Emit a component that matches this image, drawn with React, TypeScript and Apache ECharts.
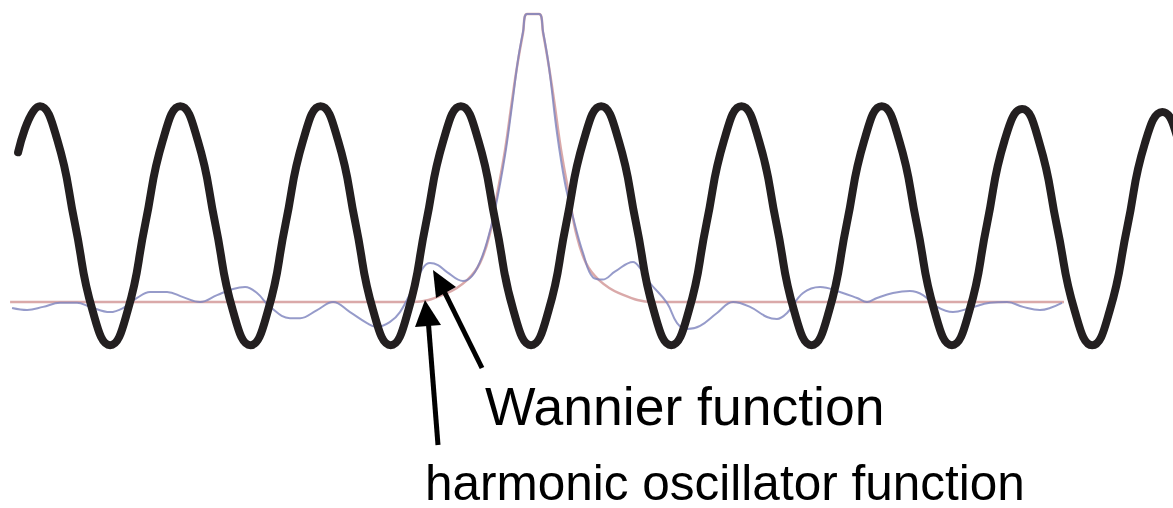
import React, { useEffect, useRef } from "react";
import * as echarts from "echarts";

// x: position in lattice spacings (potential minima at integers), y: amplitude (Wannier peak = 1)
const latticePotential: [number, number][] = [
  [-3.656, 0.52], [-3.5, 0.68], [-3.375, 0.56], [-3.25, 0.27], [-3.125, -0.03], [-3, -0.15], [-2.875, -0.03], [-2.75, 0.27], [-2.625, 0.56],
  [-2.5, 0.68], [-2.375, 0.56], [-2.25, 0.27], [-2.125, -0.03], [-2, -0.15], [-1.875, -0.03], [-1.75, 0.27], [-1.625, 0.56],
  [-1.5, 0.68], [-1.375, 0.56], [-1.25, 0.27], [-1.125, -0.03], [-1, -0.15], [-0.875, -0.03], [-0.75, 0.27], [-0.625, 0.56],
  [-0.5, 0.68], [-0.375, 0.56], [-0.25, 0.27], [-0.125, -0.03], [0, -0.15], [0.125, -0.03], [0.25, 0.27], [0.375, 0.56],
  [0.5, 0.68], [0.625, 0.56], [0.75, 0.27], [0.875, -0.03], [1, -0.15], [1.125, -0.03], [1.25, 0.27], [1.375, 0.56],
  [1.5, 0.68], [1.625, 0.56], [1.75, 0.27], [1.875, -0.03], [2, -0.15], [2.125, -0.03], [2.25, 0.27], [2.375, 0.56],
  [2.5, 0.68], [2.625, 0.56], [2.75, 0.27], [2.875, -0.03], [3, -0.15], [3.125, -0.03], [3.25, 0.27], [3.375, 0.56],
  [3.5, 0.67], [3.625, 0.55], [3.75, 0.26], [3.875, -0.03], [4, -0.15], [4.125, -0.03], [4.25, 0.26], [4.375, 0.55],
  [4.5, 0.66], [4.625, 0.54], [4.75, 0.25],
];

const harmonicOscillator: [number, number][] = [
  [-3.713, 0], [-0.841, 0], [-0.599, 0.031], [-0.456, 0.076], [-0.364, 0.135], [-0.292, 0.24],
  [-0.249, 0.354], [-0.185, 0.528], [-0.135, 0.701], [-0.1, 0.816], [-0.057, 0.934], [-0.028, 1.0],
  [0.057, 1.0], [0.086, 0.934], [0.128, 0.816], [0.164, 0.701], [0.214, 0.528], [0.278, 0.354],
  [0.321, 0.24], [0.392, 0.135], [0.485, 0.076], [0.627, 0.031], [0.87, 0], [3.799, 0],
];

const wannier: [number, number][] = [
  [-3.699, -0.021], [-3.592, -0.028], [-3.478, -0.017], [-3.357, -0.003], [-3.236, -0.003], [-3.143, -0.017],
  [-3.001, -0.035], [-2.908, -0.021], [-2.808, 0.014], [-2.716, 0.035], [-2.594, 0.035], [-2.48, 0.017],
  [-2.359, 0], [-2.238, 0.024], [-2.124, 0.045], [-2.038, 0.052], [-1.953, 0.031], [-1.86, -0.017],
  [-1.718, -0.056], [-1.646, -0.056], [-1.525, -0.028], [-1.411, 0], [-1.29, -0.035], [-1.169, -0.073],
  [-1.098, -0.087], [-1.005, -0.069], [-0.934, -0.035], [-0.841, 0.049], [-0.77, 0.118], [-0.72, 0.135],
  [-0.663, 0.128], [-0.599, 0.104], [-0.485, 0.073], [-0.421, 0.09], [-0.364, 0.139], [-0.314, 0.208],
  [-0.257, 0.319], [-0.185, 0.51], [-0.135, 0.684], [-0.093, 0.84], [-0.057, 0.938], [-0.028, 1.0],
  [0.057, 1.0], [0.086, 0.938], [0.128, 0.816], [0.185, 0.587], [0.242, 0.413], [0.299, 0.295],
  [0.371, 0.17], [0.442, 0.085], [0.51, 0.078], [0.6, 0.106], [0.727, 0.139], [0.777, 0.118],
  [0.848, 0.066], [0.969, -0.003], [1.041, -0.073], [1.112, -0.094], [1.205, -0.083], [1.326, -0.038],
  [1.44, 0], [1.561, -0.017], [1.682, -0.052], [1.753, -0.059], [1.825, -0.038], [1.939, 0.031],
  [2.06, 0.052], [2.202, 0.035], [2.324, 0.014], [2.395, 0], [2.466, 0.014], [2.58, 0.031],
  [2.701, 0.038], [2.794, 0.024], [2.894, -0.017], [3.008, -0.035], [3.129, -0.021], [3.272, -0.003],
  [3.393, 0], [3.507, -0.017], [3.628, -0.028], [3.699, -0.021], [3.785, -0.003],
];

const labelWannier = "Wannier function";
const labelHarmonic = "harmonic oscillator function";

export default function App() {
  const ref = useRef<HTMLDivElement>(null);
  useEffect(() => {
    if (!ref.current) return;
    const chart = echarts.init(ref.current, undefined, { renderer: "svg" });
    const font = '"Liberation Sans", Arial, Helvetica, sans-serif';
    chart.setOption({
      animation: false,
      backgroundColor: "#ffffff",
      grid: { left: 0, right: 0, top: 14, bottom: 134, containLabel: false },
      xAxis: { type: "value", min: -3.785, max: 4.576, show: false },
      yAxis: { type: "value", min: -0.25, max: 1, show: false },
      series: [
        {
          type: "line",
          data: harmonicOscillator,
          smooth: 0.4,
          showSymbol: false,
          clip: false,
          lineStyle: { color: "#d49a9a", width: 2.5, opacity: 0.85 },
          z: 1,
        },
        {
          type: "line",
          data: wannier,
          smooth: 0.4,
          showSymbol: false,
          clip: false,
          lineStyle: { color: "#7c82bd", width: 2, opacity: 0.8 },
          z: 2,
        },
        {
          type: "line",
          data: latticePotential,
          smooth: 0.5,
          showSymbol: false,
          clip: false,
          lineStyle: { color: "#231f20", width: 8, cap: "round", join: "round" },
          z: 3,
        },
      ],
      graphic: [
        { type: "line", shape: { x1: 438, y1: 445, x2: 428, y2: 318 }, style: { stroke: "#000", lineWidth: 5 }, z: 10 },
        { type: "polygon", shape: { points: [[425, 300], [415, 327], [441, 325]] }, style: { fill: "#000" }, z: 10 },
        { type: "line", shape: { x1: 482, y1: 368, x2: 442, y2: 287 }, style: { stroke: "#000", lineWidth: 5 }, z: 10 },
        { type: "polygon", shape: { points: [[433, 270], [436, 298], [456, 287]] }, style: { fill: "#000" }, z: 10 },
        {
          type: "text",
          left: 485,
          top: 379,
          style: { text: labelWannier, font: `53.5px ${font}`, lineHeight: 54, fill: "#000" },
          z: 10,
        },
        {
          type: "text",
          left: 425,
          top: 457,
          style: { text: labelHarmonic, font: `49.5px ${font}`, lineHeight: 50, fill: "#000" },
          z: 10,
        },
      ],
    });
    return () => chart.dispose();
  }, []);
  return (
    <div
      ref={ref}
      style={{ position: "absolute", left: 0, top: 0, width: 1173, height: 508 }}
    />
  );
}
